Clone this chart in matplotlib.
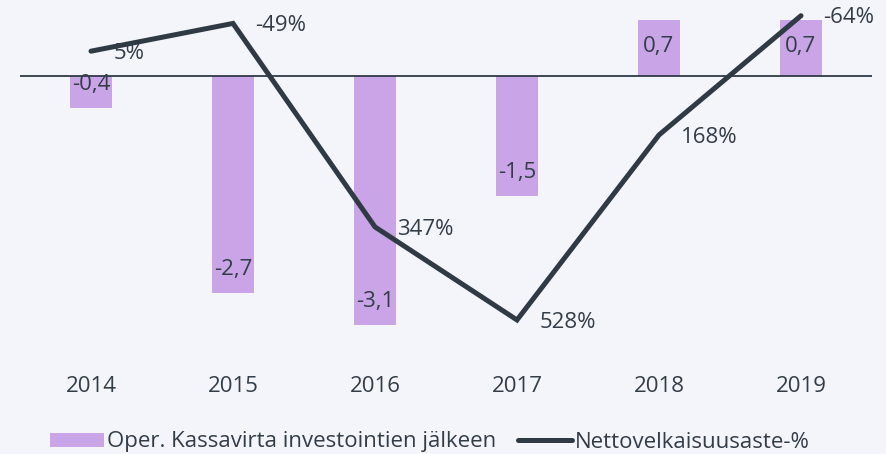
import matplotlib.pyplot as plt
import numpy as np

years = ["2014", "2015", "2016", "2017", "2018", "2019"]
cash_flow = [-0.4, -2.7, -3.1, -1.5, 0.7, 0.7]
gearing = [5, -49, 347, 528, 168, -64]

cash_labels = ["-0,4", "-2,7", "-3,1", "-1,5", "0,7", "0,7"]
gearing_labels = ["5%", "-49%", "347%", "528%", "168%", "-64%"]

BG = "#f4f5fa"
BAR = "#c9a5e8"
LINE = "#2f3a45"
TXT = "#333d48"


def main():
    plt.rcParams["font.family"] = ["Open Sans", "DejaVu Sans"]
    fig = plt.figure(figsize=(8.87, 4.54), dpi=100, facecolor=BG)
    ax = fig.add_axes([20 / 887, 109 / 454, 852 / 887, 335 / 454])
    ax.set_facecolor(BG)
    x = np.arange(len(years))

    bars = ax.bar(x, cash_flow, width=0.296, color=BAR, zorder=2,
                  label="Oper. Kassavirta investointien jälkeen")
    ax.axhline(0, color=LINE, lw=1.3, zorder=3)
    ax.set_xlim(-0.5, len(years) - 0.5)
    ax.set_ylim(-3.35, 0.822)
    for xi, v, lab in zip(x, cash_flow, cash_labels):
        off = -19 if v > 0 else 17
        ax.annotate(lab, (xi, v), xytext=(0, off), textcoords="offset points",
                    ha="center", va="center", fontsize=16, color=TXT, zorder=4)

    ax2 = ax.twinx()
    line, = ax2.plot(x, gearing, color=LINE, lw=3.6, solid_capstyle="round",
                     solid_joinstyle="miter", zorder=5,
                     label="Nettovelkaisuusaste-%")
    ax2.set_ylim(576.7, -75.1)
    for xi, v, lab in zip(x, gearing, gearing_labels):
        ax2.annotate(lab, (xi, v), xytext=(16, -1.5), textcoords="offset points",
                     ha="left", va="center", fontsize=16, color=TXT, zorder=6)

    for a in (ax, ax2):
        for s in a.spines.values():
            s.set_visible(False)
        a.set_yticks([])
    ax.set_xticks(x)
    ax.set_xticklabels(years, fontsize=16, color=TXT)
    ax.tick_params(axis="x", length=0, pad=22)

    fig.legend([bars, line], [bars.get_label(), line.get_label()],
               loc="center", bbox_to_anchor=(0.485, 12 / 454), ncol=2,
               frameon=False, fontsize=16, labelcolor=TXT,
               handlelength=2.4, handleheight=0.6, handletextpad=0.15,
               columnspacing=1.0)

    fig.savefig("out.png", dpi=100, facecolor=BG)


if __name__ == "__main__":
    main()
